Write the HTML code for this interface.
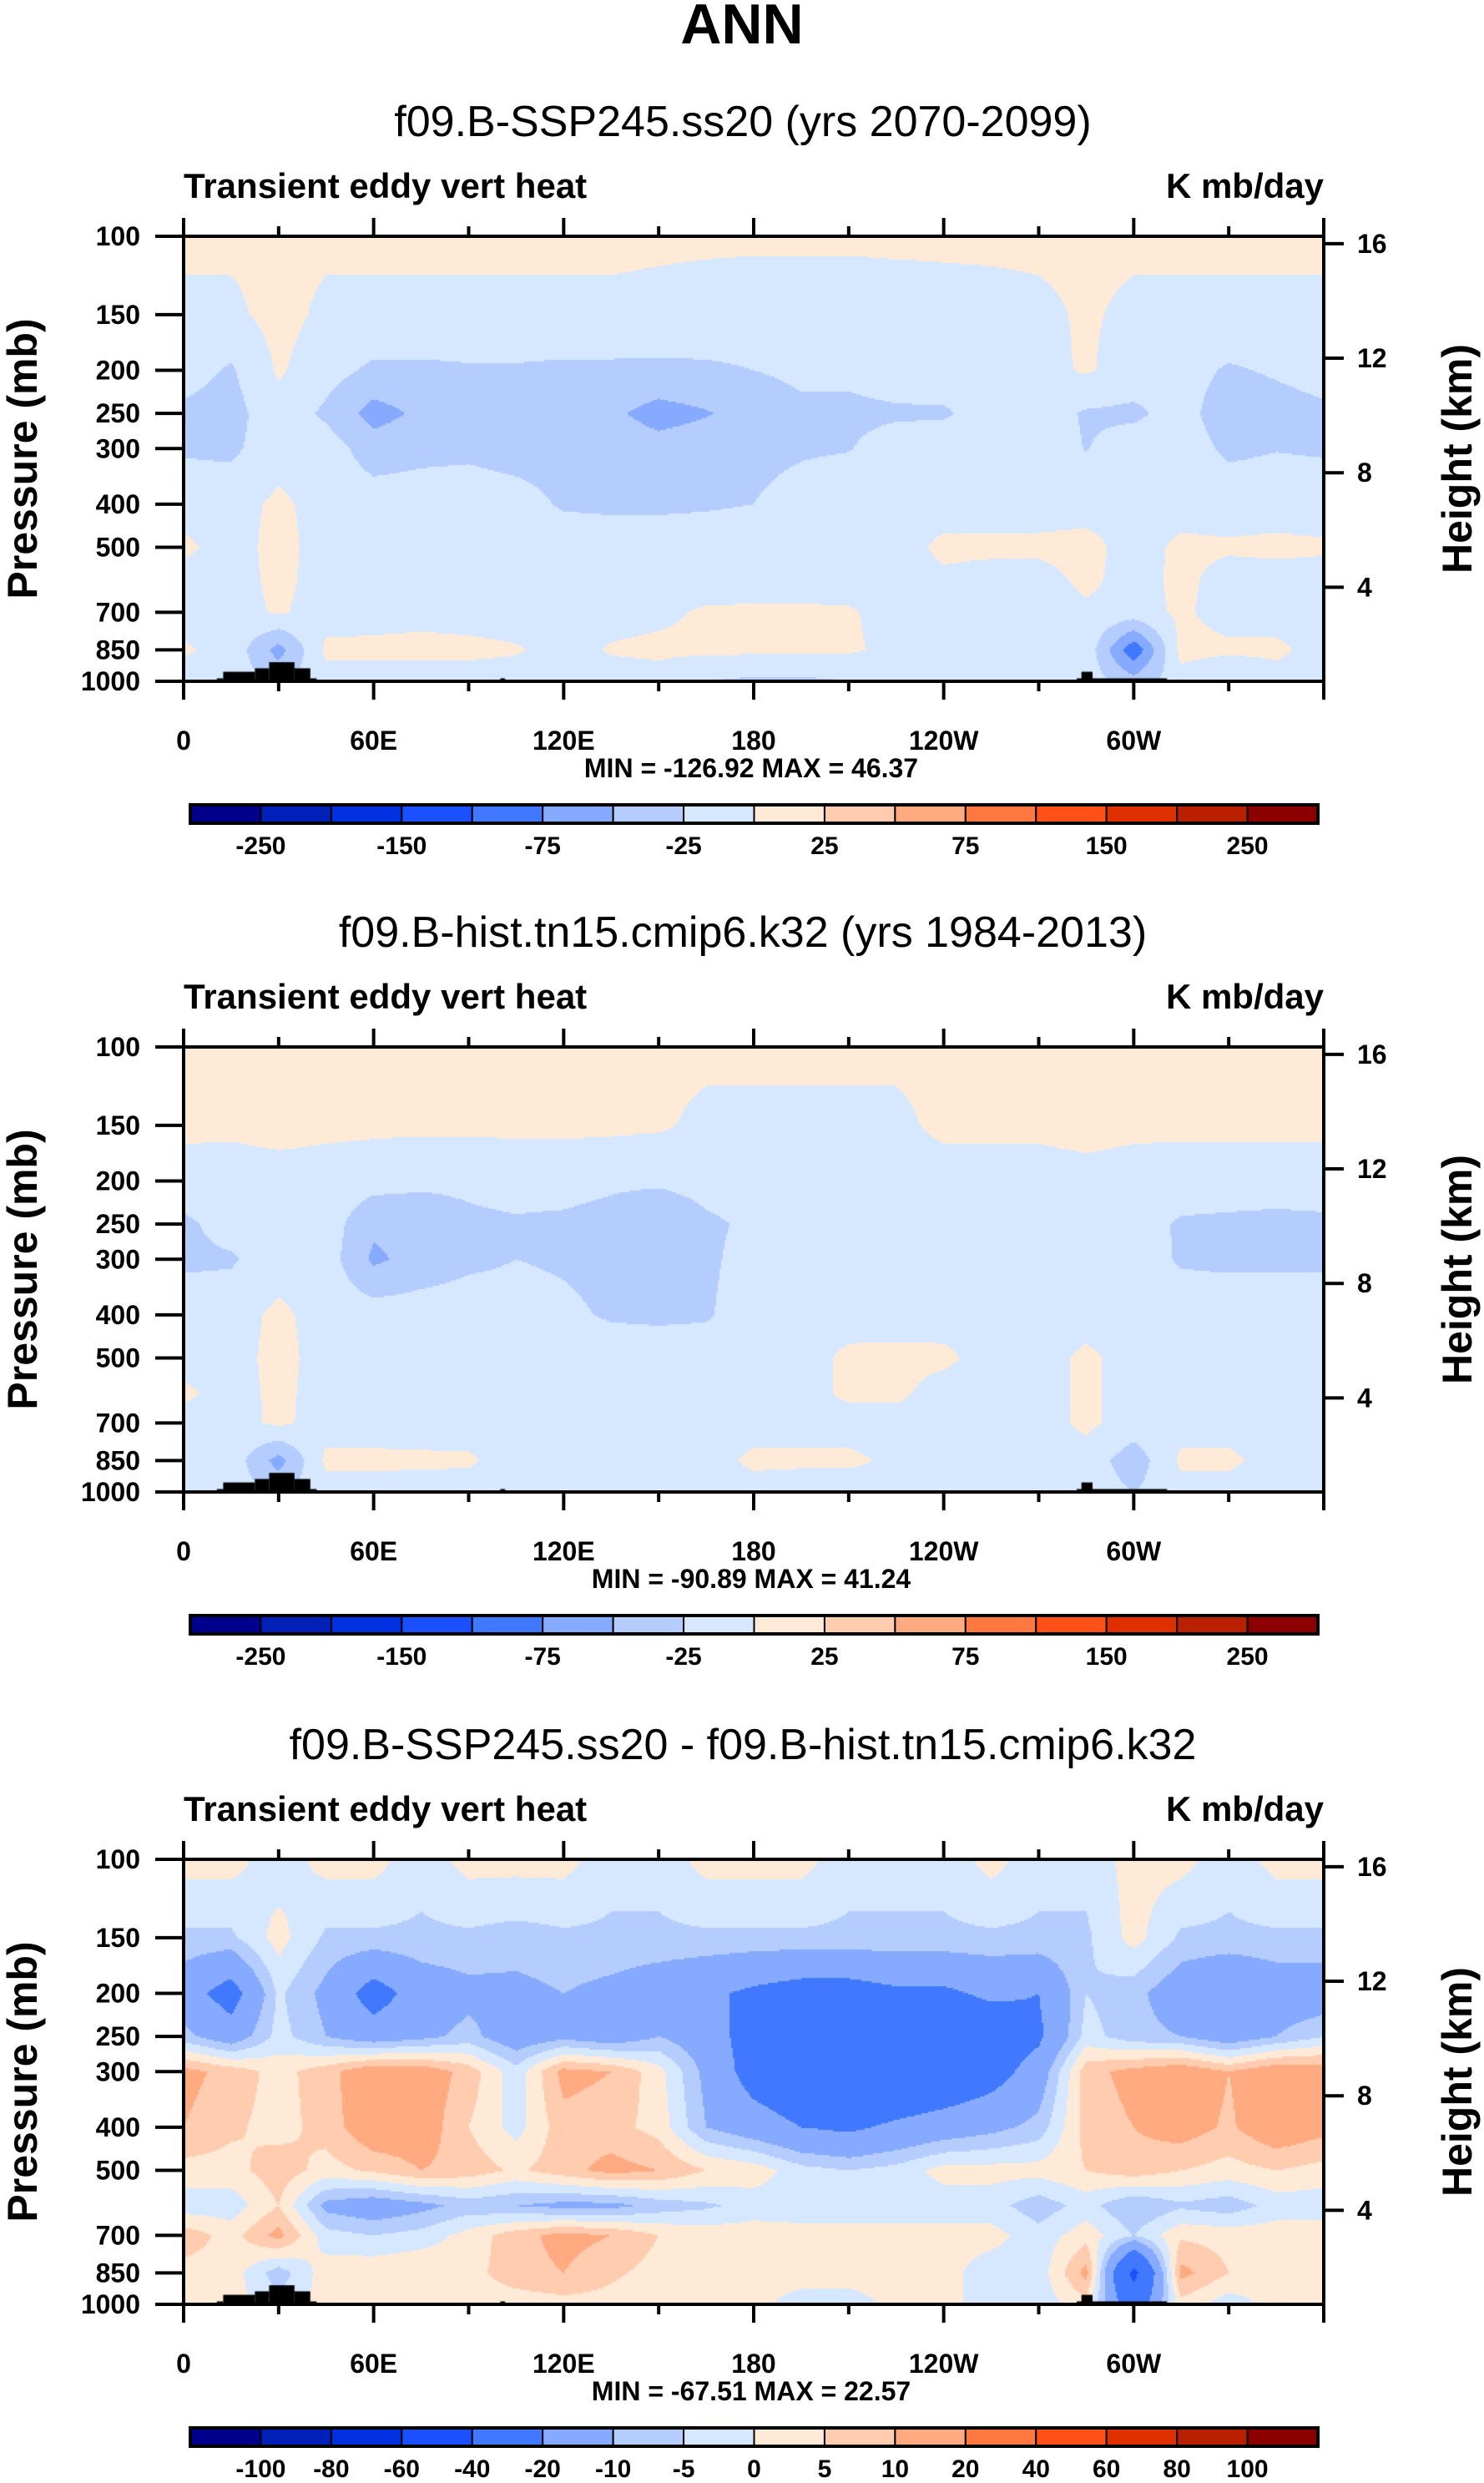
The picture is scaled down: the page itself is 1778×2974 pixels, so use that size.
<!DOCTYPE html>
<html><head><meta charset="utf-8">
<style>
html,body{margin:0;padding:0;background:#fff;}
#wrap{position:relative;width:1778px;height:2974px;overflow:hidden;font-family:"Liberation Sans",sans-serif;}
canvas{position:absolute;}
svg{position:absolute;left:0;top:0;}
</style></head>
<body>
<div id="wrap">
<canvas id="c0"></canvas>
<canvas id="c1"></canvas>
<canvas id="c2"></canvas>
<svg id="s" width="1778" height="2974"></svg>
</div>
<script>
// ---- data ----
const lons = [0,15,30,45,60,75,90,105,120,135,150,165,180,195,210,225,240,255,270,285,300,315,330,345,360];
const levels = [100,150,200,250,300,400,500,600,700,850,1000];
const panelTitles = ["f09.B-SSP245.ss20 (yrs 2070-2099)","f09.B-hist.tn15.cmip6.k32 (yrs 1984-2013)","f09.B-SSP245.ss20 - f09.B-hist.tn15.cmip6.k32"];
const minmax = ["MIN = -126.92  MAX =  46.37","MIN = -90.89  MAX =  41.24","MIN = -67.51  MAX =  22.57"];
const xTickLabels = ["0","60E","120E","180","120W","60W"];
const yTickLabels = [100,150,200,250,300,400,500,700,850,1000];
const heightTicks = [16,12,8,4];
const colors = ["#00008c","#0020b8","#0030e0","#1a50ff","#4078ff","#85aaff","#b5ccff","#d6e8ff","#ffead8","#ffccb0","#ffaa80","#ff7840","#ff5018","#e03000","#b82000","#8c0000"];
const bounds12 = [-250,-200,-150,-100,-75,-50,-25,0,25,50,75,100,150,200,250];
const cbLabels12 = ["-250","","-150","","-75","","-25","","25","","75","","150","","250"];
const bounds3 = [-100,-80,-60,-40,-20,-10,-5,0,5,10,20,40,60,80,100];
const cbLabels3 = ["-100","-80","-60","-40","-20","-10","-5","0","5","10","20","40","60","80","100"];
// panel 1 values (rows = levels, cols = lons)
const field1 = [
[5,5,5,5,5,5,5,5,5,5,5,5,5,5,5,5,5,5,5,5,5,5,5,5,5],
[-5,-5,8,-5,-5,-5,-5,-5,-5,-5,-8,-12,-15,-15,-15,-12,-10,-8,-5,3,-5,-5,-5,-5,-5],
[-15,-28,3,-15,-30,-30,-28,-28,-30,-30,-30,-28,-25,-20,-20,-15,-12,-10,-8,3,-12,-15,-28,-22,-15],
[-30,-35,-8,-30,-60,-45,-35,-45,-35,-45,-60,-52,-40,-30,-30,-28,-28,-15,-12,-28,-30,-15,-40,-35,-30],
[-28,-30,-10,-12,-38,-32,-30,-35,-35,-35,-40,-35,-32,-28,-26,-15,-12,-12,-10,-26,-12,-12,-30,-26,-28],
[-10,-10,5,-10,-12,-12,-12,-15,-28,-30,-30,-28,-25,-15,-10,-10,-10,-10,-10,-10,-10,-10,-10,-10,-10],
[5,-10,8,-10,-10,-10,-10,-10,-10,-10,-10,-10,-10,-10,-10,-10,5,5,5,8,-10,5,3,5,3],
[-10,-10,6,-10,-10,-10,-10,-10,-10,-10,-10,-10,-10,-10,-10,-10,-5,-10,-10,5,-10,6,-10,-10,-10],
[-10,-10,3,-10,-8,-5,-8,-10,-10,-8,-5,3,4,4,3,-10,-10,-10,-10,-5,-10,4,-10,-10,-10],
[3,-8,-60,5,5,5,5,2,-8,2,5,5,5,5,3,-5,-10,-10,-10,-8,-95,8,5,5,-10],
[-10,-10,-30,-10,-10,-10,-10,-10,-10,-10,-10,-25,-30,-30,-25,-10,-10,-10,-10,-10,-40,-10,-25,-10,-10]];
// panel 2 values
const field2 = [
[5,5,5,5,5,5,5,5,5,5,5,5,5,5,5,5,5,5,5,5,5,5,5,5,5],
[5,5,8,5,5,5,5,5,5,5,3,-5,-5,-5,-5,-5,5,5,5,8,5,5,5,5,5],
[-10,-12,-10,-10,-15,-20,-20,-15,-15,-20,-20,-15,-12,-10,-10,-10,-10,-10,-10,-8,-10,-12,-12,-12,-12],
[-30,-15,-10,-12,-45,-40,-30,-28,-30,-35,-50,-30,-20,-10,-10,-10,-10,-10,-10,-10,-15,-28,-30,-32,-30],
[-30,-28,-10,-12,-55,-40,-30,-25,-28,-32,-40,-30,-15,-10,-10,-10,-10,-10,-10,-10,-12,-28,-30,-30,-30],
[-10,-10,5,-10,-12,-12,-12,-15,-20,-28,-30,-28,-10,-10,-10,-10,-10,-10,-10,-10,-10,-10,-10,-10,-10],
[-10,-10,8,-10,-10,-10,-10,-10,-10,-10,-10,-10,-10,-10,5,6,5,-10,-10,5,-10,-10,-10,-10,-10],
[5,-10,6,-10,-10,-10,-10,-10,-10,-10,-10,-10,-10,-10,5,5,-10,-10,-10,5,-10,-10,-10,-10,-10],
[-10,-10,5,-10,-10,-10,-10,-10,-10,-10,-10,-10,-10,-10,-10,-10,-10,-10,-10,5,-10,-10,-10,-10,-10],
[-10,-10,-60,5,5,4,3,-10,-10,-10,-10,-10,5,5,5,-5,-10,-10,-10,-10,-40,5,5,-10,-10],
[-10,-10,-30,-10,-10,-10,-10,-10,-10,-10,-10,-10,-10,-15,-15,-10,-10,-10,-10,-10,-25,-10,-10,-15,-10]];
// panel 3 values (difference)
const field3 = [
[2,2,-3,2,2,-3,2,2,2,-3,-3,2,2,2,-3,-3,-3,2,-3,-3,2,2,-3,2,2],
[-6,-6,2,-6,-6,-6,-6,-7,-6,-6,-6,-6,-6,-6,-6,-6,-6,-6,-6,-6,2,-6,-6,-6,-6],
[-15,-25,-4,-12,-25,-15,-12,-12,-10,-12,-15,-18,-22,-25,-25,-22,-22,-18,-20,-5,-8,-15,-20,-15,-15],
[-8,-15,-3,-10,-15,-12,-8,-15,-12,-15,-10,-15,-25,-30,-32,-32,-30,-28,-22,-3,-8,-10,-15,-10,-5],
[12,8,3,8,15,14,8,-3,12,10,2,-12,-25,-30,-32,-33,-30,-25,-15,8,12,15,10,15,14],
[10,6,3,7,15,14,5,-2,8,7,3,-10,-15,-20,-22,-18,-15,-12,-8,7,10,13,9,15,12],
[3,3,8,3,6,10,8,4,8,12,10,5,3,-3,-5,-3,2,2,2,5,8,5,3,5,3],
[-3,-3,5,-12,-15,-12,-8,-10,-12,-12,-8,-6,-3,-3,-3,-3,-3,-3,-8,-3,-10,-6,-8,-3,-3],
[8,3,12,-3,-5,-3,2,8,12,10,5,3,3,2,2,2,2,2,-3,3,-5,4,3,3,3],
[3,3,-8,3,4,5,3,8,10,6,3,2,3,3,3,2,2,-3,-3,12,-45,12,5,3,3],
[2,2,-3,2,3,3,2,2,3,3,2,2,2,-3,-3,2,2,-3,-3,3,-30,3,-3,2,2]];
// topography steps [lonStart, lonEnd, pressure top]
const topo = [[10.5,12.5,985],[12.5,22.5,952],[22.5,27,935],[27,35,906],[35,40,935],[40,42,985],[100,101.5,985],[282,310.5,985],[283.5,287,952]];

// ---- layout ----
const PX0=220, PW=1366, PH=533;
const panelTop=[283,1254,2227];
const fields=[field1,field2,field3];
const boundsArr=[bounds12,bounds12,bounds3];
const cbLabArr=[cbLabels12,cbLabels12,cbLabels3];
const xOf = lon => PX0 + lon/360*PW;
const yOf = p => PH*Math.log10(p/100);
const pOfZ = z => 1112*Math.exp(-z/6.75);
const NS="http://www.w3.org/2000/svg";
const svg=document.getElementById('s');
function el(tag,attrs,txt){const e=document.createElementNS(NS,tag);for(const k in attrs)e.setAttribute(k,attrs[k]);if(txt!==undefined)e.textContent=txt;svg.appendChild(e);return e;}
function colorFor(v,b){let i=0;while(i<b.length&&v>=b[i])i++;return colors[i];}
function sample(f,lon,p){
  const li=Math.min(lons.length-2,Math.floor(lon/15));const lt=(lon-lons[li])/15;
  const lp=Math.log(p);let k=0;while(k<levels.length-2&&p>levels[k+1])k++;
  const t=(lp-Math.log(levels[k]))/(Math.log(levels[k+1])-Math.log(levels[k]));
  const a=f[k][li]*(1-lt)+f[k][li+1]*lt, b=f[k+1][li]*(1-lt)+f[k+1][li+1]*lt;
  return a*(1-t)+b*t;
}
let t=el('text',{x:889,y:52,'text-anchor':'middle','font-size':68,'font-weight':'bold'},'ANN');


for(let n=0;n<3;n++){
  const top=panelTop[n], f=fields[n], b=boundsArr[n];
  const cv=document.getElementById('c'+n);
  cv.width=PW;cv.height=PH;cv.style.left=PX0+'px';cv.style.top=top+'px';
  const ctx=cv.getContext('2d');
  const st=2;
  for(let y=0;y<PH;y+=st){
    const p=100*Math.pow(10,(y+st/2)/PH);
    for(let x=0;x<PW;x+=st){
      const lon=(x+st/2)/PW*360;
      ctx.fillStyle=colorFor(sample(f,lon,p),b);
      ctx.fillRect(x,y,st,st);
    }
  }
  ctx.fillStyle='#000';
  for(const s of topo){ctx.fillRect(s[0]/360*PW,yOf(s[2]),(s[1]-s[0])/360*PW,PH-yOf(s[2]));}
  // titles
  t=el('text',{x:890,y:top-120,'text-anchor':'middle','font-size':52},panelTitles[n]);
  
  t=el('text',{x:220,y:top-46,'font-size':42,'font-weight':'bold'},'Transient eddy vert heat');
  
  t=el('text',{x:1586,y:top-46,'text-anchor':'end','font-size':42,'font-weight':'bold'},'K mb/day');
  
  // frame
  t=el('rect',{x:PX0,y:top,width:PW,height:PH,fill:'none',stroke:'#000','stroke-width':4});
  
  // y ticks
  for(const p of yTickLabels){
    const y=top+yOf(p);
    el('line',{x1:PX0-34,x2:PX0,y1:y,y2:y,stroke:'#000','stroke-width':4});
    t=el('text',{x:PX0-52,y:y+11,'text-anchor':'end','font-size':32,'font-weight':'bold'},String(p));
    
  }
  // height ticks
  for(const z of heightTicks){
    const y=top+yOf(pOfZ(z));
    el('line',{x1:PX0+PW,x2:PX0+PW+24,y1:y,y2:y,stroke:'#000','stroke-width':4});
    t=el('text',{x:PX0+PW+40,y:y+11,'font-size':32,'font-weight':'bold'},String(z));
    
  }
  // x ticks
  for(let lon=0;lon<=360;lon+=30){
    const x=xOf(lon), L=(lon%60===0)?22:12;
    el('line',{x1:x,x2:x,y1:top-L,y2:top,stroke:'#000','stroke-width':4});
    el('line',{x1:x,x2:x,y1:top+PH,y2:top+PH+L,stroke:'#000','stroke-width':4});
  }
  xTickLabels.forEach((s,i)=>{
    t=el('text',{x:xOf(i*60),y:top+PH+82,'text-anchor':'middle','font-size':32,'font-weight':'bold'},s);
    
  });
  t=el('text',{x:900,y:top+PH+115,'text-anchor':'middle','font-size':32,'font-weight':'bold'},minmax[n]);
  
  // axis titles
  t=el('text',{x:0,y:0,'text-anchor':'middle','font-size':50,'font-weight':'bold',transform:`translate(44,${top+PH/2}) rotate(-90)`},'Pressure (mb)');
  
  t=el('text',{x:0,y:0,'text-anchor':'middle','font-size':50,'font-weight':'bold',transform:`translate(1763,${top+PH/2}) rotate(-90)`},'Height (km)');
  
  // colorbar
  const cbx=228, cbw=1351/16, cby=top+681;
  colors.forEach((c,i)=>{
    t=el('rect',{x:cbx+i*cbw,y:cby,width:cbw,height:22,fill:c,stroke:'#000','stroke-width':2});
    
  });
  el('rect',{x:cbx,y:cby,width:cbw*16,height:22,fill:'none',stroke:'#000','stroke-width':4});
  cbLabArr[n].forEach((s,i)=>{
    if(!s)return;
    t=el('text',{x:cbx+(i+1)*cbw,y:cby+59,'text-anchor':'middle','font-size':30,'font-weight':'bold'},s);
    
  });
}
</script>
</body></html>
